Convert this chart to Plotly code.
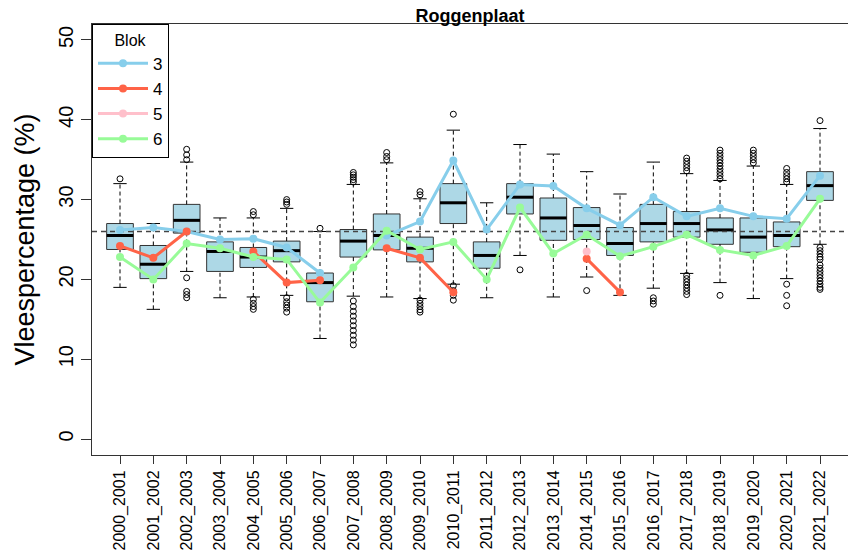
import plotly.graph_objects as go

# ---------------- data ----------------
seasons = ["2000_2001", "2001_2002", "2002_2003", "2003_2004", "2004_2005", "2005_2006",
           "2006_2007", "2007_2008", "2008_2009", "2009_2010", "2010_2011", "2011_2012",
           "2012_2013", "2013_2014", "2014_2015", "2015_2016", "2016_2017", "2017_2018",
           "2018_2019", "2019_2020", "2020_2021", "2021_2022"]

whisk_lo = [19.0, 16.25, 21.0, 17.7, 17.8, 18.0, 12.6, 17.9, 17.8, 17.6, 19.4, 17.7,
            23.0, 17.8, 20.3, 18.0, 18.9, 20.75, 19.6, 17.6, 20.1, 24.4]
q1 = [23.75, 20.1, 25.8, 21.0, 21.5, 22.2, 17.2, 22.8, 23.7, 22.2, 27.0, 21.4,
      28.2, 24.9, 25.0, 23.0, 24.7, 25.3, 24.4, 23.4, 24.1, 29.9]
median = [25.5, 21.9, 27.4, 23.5, 22.8, 23.6, 19.6, 24.8, 25.5, 23.9, 29.6, 23.0,
          30.3, 27.7, 26.75, 24.5, 27.0, 27.0, 26.2, 25.3, 25.5, 31.75]
q3 = [27.0, 24.25, 29.4, 24.7, 24.0, 24.8, 20.8, 26.25, 28.2, 25.3, 32.0, 24.7,
      32.0, 30.2, 29.0, 26.5, 29.4, 28.5, 27.7, 27.7, 27.2, 33.5]
whisk_hi = [32.0, 27.0, 34.7, 27.7, 27.7, 28.9, 26.0, 31.9, 34.6, 30.1, 38.7, 29.6,
            36.9, 35.7, 33.5, 30.7, 34.7, 33.25, 32.4, 34.2, 31.9, 38.9]
outliers = [
    [32.6],
    [],
    [35.0, 35.6, 36.3, 20.2, 18.5, 18.1, 17.7],
    [],
    [28.1, 28.5, 17.5, 17.0, 16.6, 16.25],
    [29.4, 29.7, 30.0, 17.7, 17.2, 16.8, 16.4, 15.9],
    [26.4],
    [32.2, 32.5, 32.8, 33.1, 33.4, 17.3, 16.6, 16.0, 15.4, 14.8, 14.2, 13.6, 13.0, 12.4, 11.8],
    [35.0, 35.4, 35.9],
    [30.6, 31.0, 17.4, 17.0, 16.6, 16.2, 15.9],
    [40.7, 19.2, 18.6, 18.0, 17.4],
    [],
    [21.2],
    [],
    [18.6],
    [],
    [17.7, 17.3, 16.9],
    [33.6, 34.0, 34.4, 34.8, 35.2, 20.5, 20.1, 19.7, 19.3, 18.9, 18.5, 18.1],
    [32.6, 33.0, 33.4, 33.8, 34.2, 34.6, 35.0, 35.4, 35.8, 36.2, 18.0],
    [34.6, 35.0, 35.4, 35.8, 36.2],
    [32.2, 32.6, 33.0, 33.4, 33.9, 19.4, 18.0, 16.7],
    [39.9, 24.0, 23.6, 23.2, 22.8, 22.5, 21.8, 21.4, 21.0, 20.6, 20.2, 19.8, 19.4, 19.0, 18.75],
]

blok_names = ["3", "4", "5", "6"]
blok3 = [26.2, 26.5, 26.0, 25.0, 25.1, 24.0, 20.8, None, 25.5, 27.25, 34.9, 26.25,
         31.9, 31.7, 28.9, 26.8, 30.3, 27.9, 28.9, 27.9, 27.6, 33.0]
blok4 = [24.2, 22.7, 26.0, None, 23.5, 19.6, 19.9, None, 23.9, 22.7, 18.4, None,
         None, None, 22.6, 18.4, None, None, None, None, None, None]
blok5 = [None, None, None, None, None, None, None, None, None, None, None, None,
         None, None, 23.5, None, None, None, None, None, None, None]
blok6 = [22.8, 20.0, 24.5, 23.9, 22.8, 22.5, 17.1, 21.5, 26.1, 23.75, 24.7, 20.0,
         29.0, 23.25, 25.6, 22.9, 24.1, 25.6, 23.7, 23.0, 24.2, 30.1]
blok_colors = ["#87CEEB", "#FF6347", "#FFC0CB", "#98FB98"]

reference_level = 26.0
y_ticks = [0, 10, 20, 30, 40, 50]

# ---------------- figure ----------------
FONT = "Liberation Sans, Arial, sans-serif"
pos = list(range(1, len(seasons) + 1))
half = 0.4
cap = 0.2

fig = go.Figure()

# boxes
bx, by = [], []
for p, a, b in zip(pos, q1, q3):
    bx += [p - half, p + half, p + half, p - half, p - half, None]
    by += [a, a, b, b, a, None]
fig.add_trace(go.Scatter(x=bx, y=by, mode="lines", fill="toself", fillcolor="#ADD8E6",
                         line=dict(color="#333333", width=1), showlegend=False, hoverinfo="skip"))

# whiskers (dashed)
wx, wy = [], []
for p, lo, a, b, hi in zip(pos, whisk_lo, q1, q3, whisk_hi):
    wx += [p, p, None, p, p, None]
    wy += [lo, a, None, b, hi, None]
fig.add_trace(go.Scatter(x=wx, y=wy, mode="lines", line=dict(color="black", width=1, dash="4px,3px"),
                         showlegend=False, hoverinfo="skip"))

# caps
cx, cy = [], []
for p, lo, hi in zip(pos, whisk_lo, whisk_hi):
    cx += [p - cap, p + cap, None, p - cap, p + cap, None]
    cy += [lo, lo, None, hi, hi, None]
fig.add_trace(go.Scatter(x=cx, y=cy, mode="lines", line=dict(color="black", width=1),
                         showlegend=False, hoverinfo="skip"))

# medians
mx, my = [], []
for p, m in zip(pos, median):
    mx += [p - half, p + half, None]
    my += [m, m, None]
fig.add_trace(go.Scatter(x=mx, y=my, mode="lines", line=dict(color="black", width=3),
                         showlegend=False, hoverinfo="skip"))

# outliers
ox, oy = [], []
for p, outs in zip(pos, outliers):
    for v in outs:
        ox.append(p)
        oy.append(v)
fig.add_trace(go.Scatter(x=ox, y=oy, mode="markers",
                         marker=dict(symbol="circle-open", size=6, color="black", line=dict(width=1)),
                         showlegend=False, hoverinfo="skip"))

# reference line
fig.add_trace(go.Scatter(x=[0.16, 22.84], y=[reference_level, reference_level], mode="lines",
                         line=dict(color="#444444", width=1.3, dash="5px,4px"),
                         showlegend=False, hoverinfo="skip"))

# block series
for name, vals, col in zip(blok_names, [blok3, blok4, blok5, blok6], blok_colors):
    fig.add_trace(go.Scatter(x=pos, y=vals, mode="lines+markers", name=name,
                             line=dict(color=col, width=3), connectgaps=False,
                             marker=dict(color=col, size=8)))

fig.update_layout(
    width=848, height=555,
    margin=dict(l=92, r=0, t=24, b=100),
    paper_bgcolor="white", plot_bgcolor="white",
    font=dict(family=FONT, color="black"),
    title=dict(text="<b>Roggenplaat</b>", x=0.5, xref="paper", xanchor="center",
               y=1 - 16 / 555, yref="container", yanchor="middle",
               font=dict(size=18, family=FONT, color="black")),
    showlegend=True,
    legend=dict(x=0, y=1, xanchor="left", yanchor="top", xref="paper", yref="paper",
                bgcolor="white", bordercolor="black", borderwidth=1,
                font=dict(size=17, family=FONT),
                title=dict(text="Blok", side="top center", font=dict(size=16, family=FONT)),
                itemwidth=50, tracegroupgap=0),
    xaxis=dict(range=[0.16, 22.84], tickmode="array", tickvals=pos, ticktext=seasons,
               tickangle=-90, tickfont=dict(size=16, family=FONT), automargin=False,
               ticks="outside", ticklen=8, tickcolor="#333333",
               showline=True, linecolor="#333333", linewidth=1, mirror=True,
               showgrid=False, zeroline=False),
    yaxis=dict(range=[-2, 52], tickmode="array", tickvals=y_ticks, automargin=False,
               tickangle=-90, tickfont=dict(size=20, family=FONT),
               ticks="outside", ticklen=10, tickcolor="#333333",
               showline=True, linecolor="#333333", linewidth=1, mirror=False,
               showgrid=False, zeroline=False,
               title=dict(text="Vleespercentage (%)", font=dict(size=27, family=FONT), standoff=12)),
)

fig.write_html("out.html")
